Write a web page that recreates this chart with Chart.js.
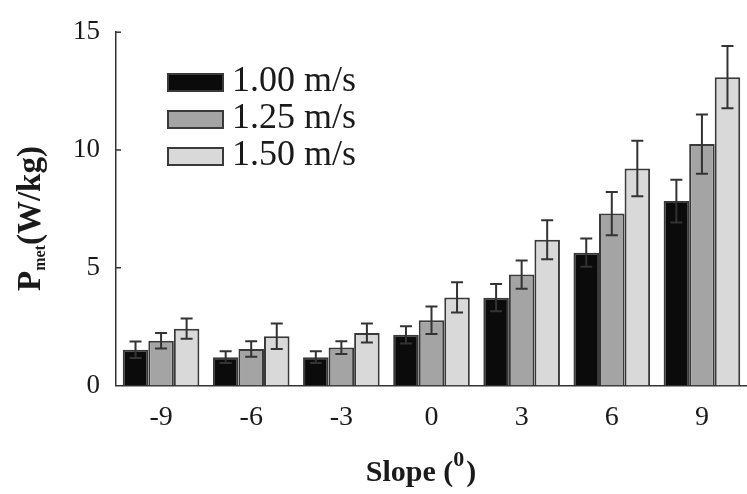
<!DOCTYPE html>
<html>
<head>
<meta charset="utf-8">
<script src="https://cdn.jsdelivr.net/npm/chart.js@4.4.0/dist/chart.umd.min.js"></script>
<style>
  html, body { margin: 0; padding: 0; background: #fff; overflow: hidden; }
  #wrap { width: 747px; height: 494px; position: relative; }
</style>
</head>
<body>
<div id="wrap"><canvas id="graph"></canvas></div>
<script>
// slope categories (degrees)
var slopes = ["-9", "-6", "-3", "0", "3", "6", "9"];
var speedLabels = ["1.00 m/s", "1.25 m/s", "1.50 m/s"];

// metabolic power (W/kg), mean values per speed
var pmet100 = [1.52, 1.20, 1.20, 2.15, 3.73, 5.64, 7.83];
var pmet125 = [1.90, 1.55, 1.61, 2.77, 4.71, 7.30, 10.25];
var pmet150 = [2.41, 2.09, 2.23, 3.74, 6.19, 9.21, 13.09];

// error bars (+/-)
var err100 = [0.35, 0.25, 0.25, 0.37, 0.58, 0.60, 0.91];
var err125 = [0.33, 0.33, 0.27, 0.58, 0.60, 0.92, 1.26];
var err150 = [0.43, 0.54, 0.40, 0.64, 0.83, 1.18, 1.32];

var yTicks = [0, 5, 10, 15];

var serif = "'Liberation Serif', 'Times New Roman', serif";
var ink = "#1a1a1a";
var edge = "#3a3a3a";

// draws the error bars on top of each bar
var errorBars = {
    id: "errorBars",
    afterDatasetsDraw: function (chart) {
        var ctx = chart.ctx;
        var y = chart.scales.y;
        ctx.save();
        ctx.strokeStyle = "#333";
        ctx.lineWidth = 2;
        chart.data.datasets.forEach(function (ds, i) {
            var meta = chart.getDatasetMeta(i);
            meta.data.forEach(function (bar, j) {
                var v = ds.data[j], e = ds.errors[j];
                var top = y.getPixelForValue(v + e);
                var bot = y.getPixelForValue(v - e);
                ctx.beginPath();
                ctx.moveTo(bar.x, top); ctx.lineTo(bar.x, bot);
                ctx.moveTo(bar.x - 6, top); ctx.lineTo(bar.x + 6, top);
                ctx.moveTo(bar.x - 6, bot); ctx.lineTo(bar.x + 6, bot);
                ctx.stroke();
            });
        });
        ctx.restore();
    }
};

// inward tick marks, legend and axis titles
var decorations = {
    id: "decorations",
    afterDraw: function (chart) {
        var ctx = chart.ctx;
        var y = chart.scales.y;
        var left = chart.chartArea.left;
        ctx.save();

        // inward ticks on y axis
        ctx.strokeStyle = "#333";
        ctx.lineWidth = 1.5;
        yTicks.forEach(function (t) {
            if (t === 0) return;
            var py = y.getPixelForValue(t);
            ctx.beginPath();
            ctx.moveTo(left, py); ctx.lineTo(left + 5, py);
            ctx.stroke();
        });

        // legend
        ctx.font = "36px " + serif;
        ctx.textBaseline = "middle";
        ctx.textAlign = "left";
        chart.data.datasets.forEach(function (ds, i) {
            var by = 74 + i * 37;
            ctx.fillStyle = ds.backgroundColor;
            ctx.fillRect(168, by, 55, 17);
            ctx.strokeStyle = edge;
            ctx.lineWidth = 2;
            ctx.strokeRect(168, by, 55, 17);
            ctx.fillStyle = ink;
            ctx.fillText(ds.label, 232, by + 8);
        });

        // x axis title: Slope (0)
        ctx.textBaseline = "alphabetic";
        ctx.fillStyle = ink;
        var big = "bold 30px " + serif, small = "bold 22px " + serif;
        ctx.font = big;
        var w1 = ctx.measureText("Slope (").width;
        var w3 = ctx.measureText(")").width;
        ctx.font = small;
        var w2 = ctx.measureText("0").width + 2;
        var x0 = 421 - (w1 + w2 + w3) / 2;
        ctx.font = big;
        ctx.fillText("Slope (", x0, 481);
        ctx.font = small;
        ctx.fillText("0", x0 + w1, 466);
        ctx.font = big;
        ctx.fillText(")", x0 + w1 + w2, 481);

        // y axis title: P_met (W/kg)
        ctx.translate(40, 291);
        ctx.rotate(-Math.PI / 2);
        ctx.font = "bold 33px " + serif;
        ctx.fillText("P", 0, 0);
        var wp = ctx.measureText("P").width;
        ctx.font = "bold 16px " + serif;
        ctx.fillText("met", wp, 5);
        var wm = ctx.measureText("met").width;
        ctx.font = "bold 33px " + serif;
        ctx.fillText("(W/kg)", wp + wm, 0);

        ctx.restore();
    }
};

var ctx = document.getElementById("graph").getContext("2d");

var myChart = new Chart(ctx, {
    type: "bar",
    data: {
        labels: slopes,
        datasets: [{
            label: speedLabels[0],
            data: pmet100,
            errors: err100,
            backgroundColor: "#0b0b0b",
            borderColor: edge,
            borderWidth: 2
        }, {
            label: speedLabels[1],
            data: pmet125,
            errors: err125,
            backgroundColor: "#a4a4a4",
            borderColor: edge,
            borderWidth: 2
        }, {
            label: speedLabels[2],
            data: pmet150,
            errors: err150,
            backgroundColor: "#d9d9d9",
            borderColor: edge,
            borderWidth: 2
        }]
    },
    options: {
        responsive: true,
        maintainAspectRatio: false,
        animation: false,
        layout: { padding: { top: 24, right: 0, left: 0, bottom: 0 } },
        datasets: {
            bar: { categoryPercentage: 0.85, barPercentage: 1.0 }
        },
        plugins: {
            legend: { display: false },
            tooltip: { enabled: false }
        },
        scales: {
            x: {
                grid: { display: false, drawTicks: false },
                border: { display: true, color: "#333", width: 1.5 },
                ticks: {
                    color: ink,
                    font: { family: serif, size: 28 },
                    padding: 15,
                    maxRotation: 0
                },
                afterFit: function (scale) { scale.height = 108.5; }
            },
            y: {
                min: 0,
                max: 15,
                afterBuildTicks: function (scale) {
                    scale.ticks = yTicks.map(function (v) { return { value: v }; });
                },
                grid: { display: false, drawTicks: false },
                border: { display: true, color: "#333", width: 1.5 },
                ticks: {
                    color: ink,
                    font: { family: serif, size: 27 },
                    padding: 16
                },
                afterFit: function (scale) { scale.width = 116; }
            }
        }
    },
    plugins: [errorBars, decorations]
});
</script>
</body>
</html>
